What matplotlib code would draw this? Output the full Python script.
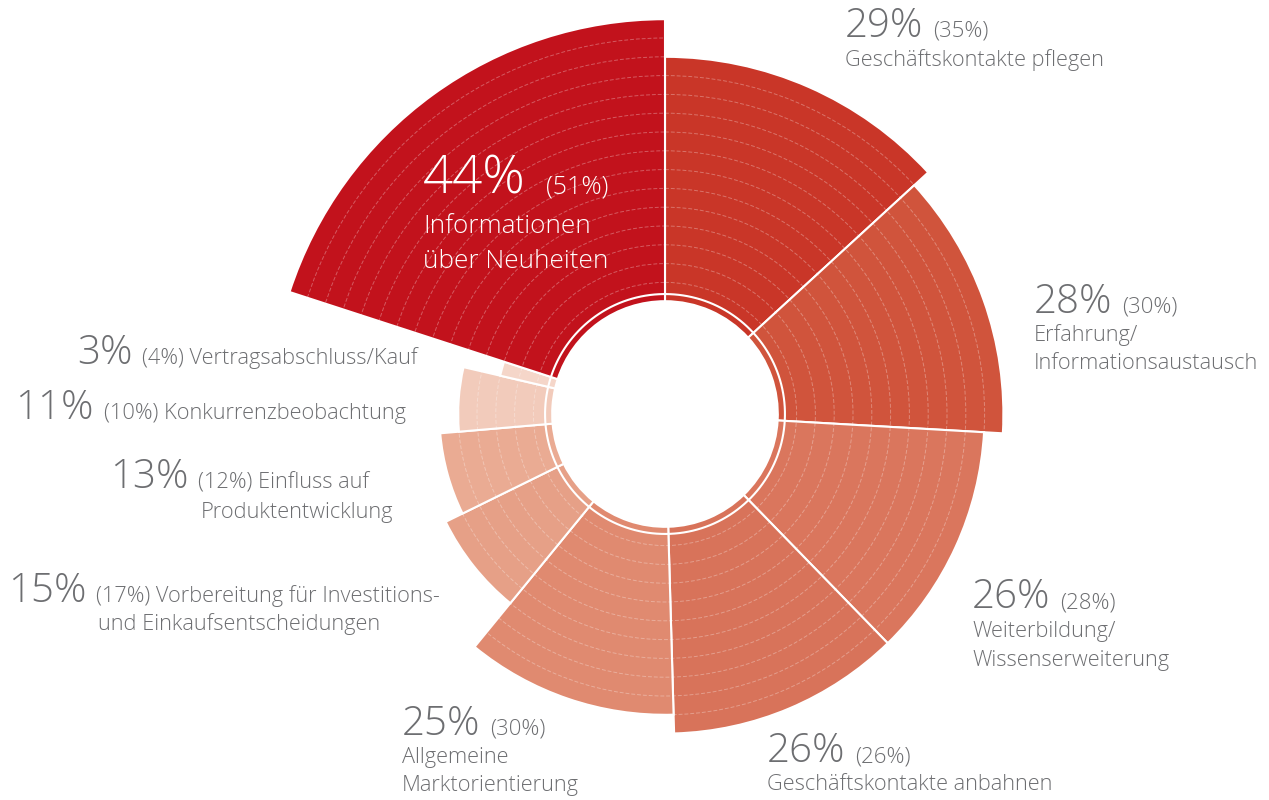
import numpy as np
import matplotlib
matplotlib.use('Agg')
import matplotlib.pyplot as plt

# clockwise from 12 o'clock
names = ['Geschäftskontakte pflegen', 'Erfahrung/\nInformationsaustausch',
         'Weiterbildung/\nWissenserweiterung', 'Geschäftskontakte anbahnen',
         'Allgemeine\nMarktorientierung', 'Vorbereitung für Investitions-\nund Einkaufsentscheidungen',
         'Einfluss auf\nProduktentwicklung', 'Konkurrenzbeobachtung',
         'Vertragsabschluss/Kauf', 'Informationen\nüber Neuheiten']
values = [29, 28, 26, 26, 25, 15, 13, 11, 3, 44]
prev = [35, 30, 28, 26, 30, 17, 12, 10, 4, 51]
# number of concentric bands in each sector, counted off the picture
bands = [13, 12, 11, 11, 10, 7, 6, 5, 3, 15]
colors = ['#c93628', '#d0543c', '#da765d', '#d8735a', '#e08a70',
          '#e6a087', '#eaab93', '#f2cbbb', '#f5d6c9', '#c2121c']

W, H = 1269, 800
cx, cy = 665, 414      # centre of the rose, pixels from top left
unit = 18.8            # pixels per band
hole = 6               # empty centre, in bands
rmax = 22

grey = '#6d6e71'
font = 'Open Sans'

fig = plt.figure(figsize=(W / 100, H / 100), dpi=100)
ax = fig.add_axes([(cx - rmax * unit) / W, (H - cy - rmax * unit) / H,
                   2 * rmax * unit / W, 2 * rmax * unit / H], projection='polar')
ax.set_theta_zero_location('N')
ax.set_theta_direction(-1)

# sector width follows the share of the value
widths = 2 * np.pi * np.array(values) / sum(values)
starts = np.concatenate([[0], np.cumsum(widths)[:-1]])
ax.bar(starts, bands, width=widths, bottom=hole, align='edge', color=colors,
       edgecolor='white', linewidth=1.5, zorder=2)

# thin white ring that cuts off the inner band
th = np.linspace(0, 2 * np.pi, 500)
ax.plot(th, np.full(th.size, hole + 0.38), color='white', lw=1.5, zorder=3)

ax.set_ylim(0, rmax)
ax.set_yticks(np.arange(hole + 1, hole + max(bands)))
ax.set_yticklabels([])
ax.set_xticks([])
ax.set_axisbelow(False)
ax.yaxis.grid(True, color='white', alpha=0.3, lw=0.7, ls=(0, (4, 2)))
ax.xaxis.grid(False)
ax.spines['polar'].set_visible(False)
ax.patch.set_visible(False)

renderer = fig.canvas.get_renderer()

def put(x, y, s, size, color=grey):
    return fig.text(x / W, 1 - y / H, s, fontsize=size, color=color, family=font,
                    fontweight='light', ha='left', va='baseline')

def right_end(t):
    return t.get_window_extent(renderer).x1

# (x, baseline of big number, line gap, label inline after the share?)
layout = [(845, 37, 29, False), (1034, 313, 28, False), (972, 608, 29, False),
          (767, 762, 28, False), (402, 735, 28, False), (8, 602, 28, True),
          (110, 488, 30, True), (15, 419, 28, True), (77, 364, 28, True),
          (423, 193, 37, False)]

for i, (x, y, gap, inline) in enumerate(layout):
    big = 'Informationen' in names[i]
    col = 'white' if big else grey
    t = put(x, y, f'{values[i]}%', 38 if big else 29, col)
    x2 = right_end(t) + (20 if big else 10)
    lines = names[i].split('\n')
    if inline:
        put(x2, y, f'({prev[i]}%) ' + lines[0], 15.7, col)
        for k, ln in enumerate(lines[1:]):
            put(x2 + 2, y + gap * (k + 1), ln, 15.7, col)
    else:
        put(x2, y, f'({prev[i]}%)', 18 if big else 16, col)
        yy = y + (40 if big else gap)
        for ln in lines:
            put(x, yy, ln, 18.8 if big else 15.7, col)
            yy += 35 if big else gap

fig.savefig('out.png', dpi=100)
